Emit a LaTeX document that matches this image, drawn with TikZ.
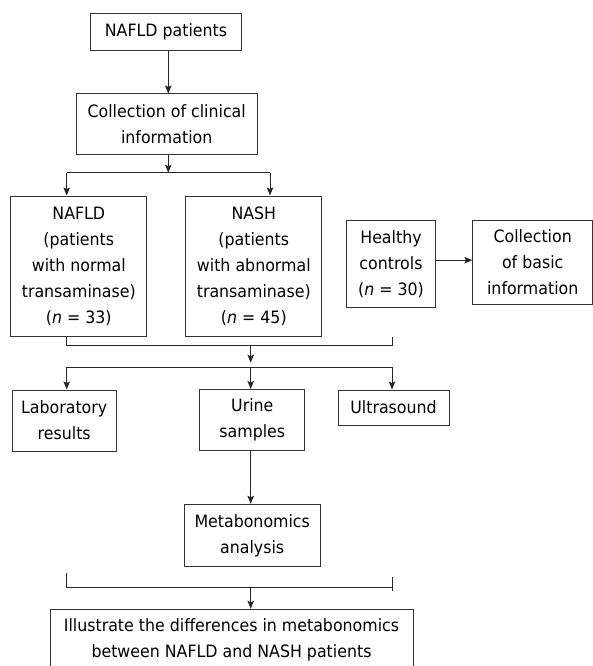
\documentclass[tikz,border=0pt]{standalone}
\usepackage{fontspec}
\setmainfont{DejaVu Sans}[FakeStretch=0.93]
\usetikzlibrary{arrows.meta}

\begin{document}
\begin{tikzpicture}[x=1pt,y=1pt,
  box/.style={draw=black!80, line width=1pt, inner sep=0pt, align=center,
    font=\fontsize{17}{26}\selectfont},
  link/.style={draw=black!85, line width=1pt},
  arr/.style={link, -{Stealth[length=8pt,width=6.5pt,inset=1.5pt]}}]
\useasboundingbox (0,0) rectangle (593,-666);
% boxes
\node [box, minimum width=150.6pt, minimum height=37.4pt] (pat) at (166,-32) {NAFLD patients};
\node [box, minimum width=181.3pt, minimum height=60pt] (clin) at (166.7,-124) {Collection of clinical\\information};
\node [box, minimum width=135.7pt, minimum height=140pt] (nafld) at (78.8,-266) {NAFLD\\(patients\\with normal\\transaminase)\\(\textit{n} = 33)};
\node [box, minimum width=135.7pt, minimum height=140pt] (nash) at (253.8,-266) {NASH\\(patients\\with abnormal\\transaminase)\\(\textit{n} = 45)};
\node [box, minimum width=89.4pt, minimum height=87.3pt] (healthy) at (391,-263.7) {Healthy\\controls\\(\textit{n} = 30)};
\node [box, minimum width=119.6pt, minimum height=84.3pt] (basic) at (532.7,-262.2) {Collection\\of basic\\information};
\node [box, minimum width=103.7pt, minimum height=61pt] (lab) at (64.2,-420.5) {Laboratory\\results};
\node [box, minimum width=104.7pt, minimum height=61pt] (urine) at (252.3,-420) {Urine\\samples};
\node [box, minimum width=111pt, minimum height=35pt] (ultra) at (393.5,-407.5) {Ultrasound};
\node [box, minimum width=136.3pt, minimum height=62.4pt] (metab) at (252.2,-535.5) {Metabonomics\\analysis};
\node [box, minimum width=363pt, minimum height=62pt] (illus) at (231.5,-640.3) {Illustrate the differences in metabonomics\\between NAFLD and NASH patients};
% junction points
\coordinate (split) at (168.3,-172.7);
\coordinate (splitL) at (66.7,-172.7);
\coordinate (splitR) at (270,-172.7);
\coordinate (mergeL) at (66.7,-345);
\coordinate (mergeR) at (392,-345);
\coordinate (mergeC) at (250.7,-345);
\coordinate (fanL) at (66.7,-367.3);
\coordinate (fanC) at (250.7,-367.3);
\coordinate (fanR) at (392,-367.3);
\coordinate (joinL) at (66,-587.3);
\coordinate (joinC) at (250.7,-587.3);
\coordinate (joinR) at (392,-587.3);
% connectors
\draw [arr] (pat.south -| split) -- (clin.north -| split);
\draw [arr] (clin.south -| split) -- (split);
\draw [link] (splitL) -- (splitR);
\draw [arr] (splitL) -- (splitL |- nafld.north);
\draw [arr] (splitR) -- (splitR |- nash.north);
\draw [arr] ([yshift=3.5pt]healthy.east) -- ([yshift=3.5pt]healthy.east -| basic.west);
\draw [link] (mergeL |- nafld.south) -- (mergeL) -- (mergeR) -- ([yshift=8.3pt]mergeR);
\draw [arr] (mergeC) -- ([yshift=4.6pt]fanC);
\draw [link] (fanL) -- (fanR);
\draw [arr] (fanL) -- (fanL |- lab.north);
\draw [arr] (fanC) -- (fanC |- urine.north);
\draw [arr] (fanR) -- (fanR |- ultra.north);
\draw [arr] (urine.south -| joinC) -- (metab.north -| joinC);
\draw [link] ([yshift=14.6pt]joinL) -- (joinL) -- (joinR);
\draw [link] ([yshift=10.6pt]joinR) -- ([yshift=-3.7pt]joinR);
\draw [arr] (joinC) -- (joinC |- illus.north);
\end{tikzpicture}
\end{document}
